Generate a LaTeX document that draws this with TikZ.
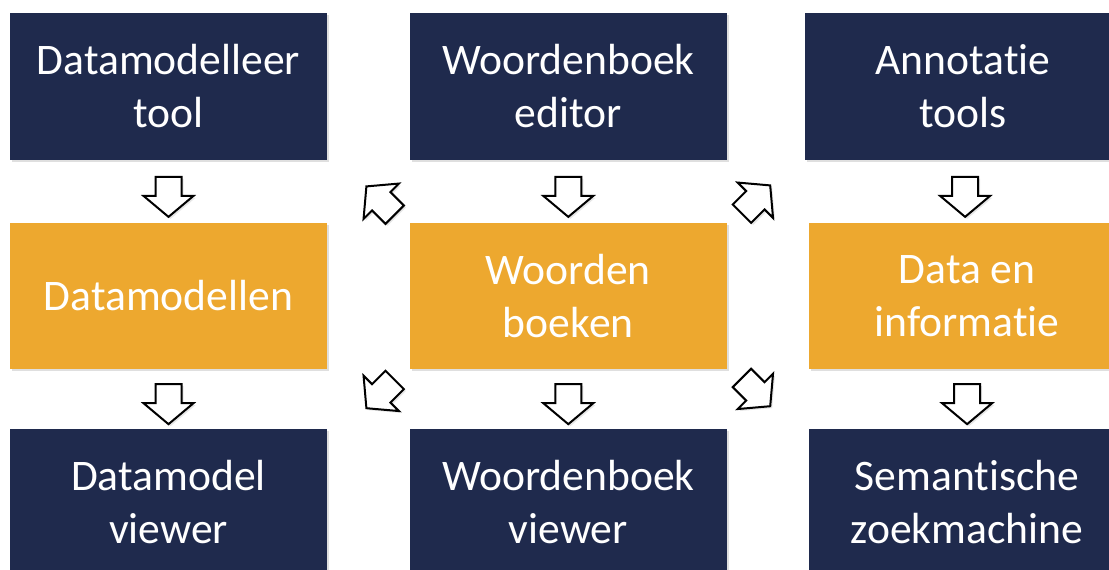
\documentclass[tikz,border=0pt]{standalone}
\usepackage{fontspec}
\setmainfont{Carlito}[Ligatures={NoCommon,NoRequired,NoContextual}, RawFeature={-dlig}]
\usetikzlibrary{calc,positioning,shapes.arrows,shadows}
\definecolor{navy}{HTML}{1F2A4D}
\definecolor{amber}{HTML}{EDA82F}

\begin{document}
\begin{tikzpicture}[
      x=0.5pt, y=-0.5pt,
      every node/.style={font=\fontsize{21.8pt}{26.5pt}\selectfont, align=center},
      toolbox/.style={rectangle, fill=navy, text=white, inner sep=0pt,
            minimum width=158.5pt, minimum height=73.5pt,
            drop shadow={shadow xshift=1.2pt, shadow yshift=-1.2pt, opacity=0.25}},
      databox/.style={toolbox, fill=amber, minimum height=73pt},
      flow/.style={single arrow, draw, line width=1pt, fill=white,
            minimum height=20pt, inner xsep=0pt, inner ysep=6pt,
            single arrow head extend=6pt, single arrow tip angle=100,
            drop shadow={shadow xshift=1pt, shadow yshift=-1pt, opacity=0.2}}
]
\clip (0,0) rectangle (1109,569);
\node[toolbox] (dmtool) at (168.5,86.5) {Datamodelleer\\tool};
\node[toolbox, right=41pt of dmtool] (wbeditor) {Woordenboek\\editor};
\node[toolbox, right=38.5pt of wbeditor] (annotools) {Annotatie\\tools};
\node[databox, below=31pt of dmtool] (datamodels) {Datamodellen};
\node[databox, right=41pt of datamodels] (woordenboeken) {Woorden\\boeken};
\node[databox, right=40.5pt of woordenboeken] (datainfo) {Data en\\informatie};
\node[toolbox, below=29.5pt of datamodels] (dmviewer) {Datamodel\\viewer};
\node[toolbox, below=29.5pt of woordenboeken] (wbviewer) {Woordenboek\\viewer};
\node[toolbox, below=29.5pt of datainfo] (zoekmachine) {Semantische\\zoekmachine};

% vertical flow
\node[flow, rotate=-90] at ($(dmtool.south)!0.5!(datamodels.north)$) {};
\node[flow, rotate=-90] at ($(wbeditor.south)!0.5!(woordenboeken.north)$) {};
\node[flow, rotate=-90] at ($(annotools.south)!0.5!(datainfo.north)$) {};
\node[flow, rotate=-90] at ($(datamodels.south)!0.5!(dmviewer.north)$) {};
\node[flow, rotate=-90] at ($(woordenboeken.south)!0.5!(wbviewer.north)$) {};
\node[flow, rotate=-90] at ($(datainfo.south)!0.5!(zoekmachine.north)$) {};

% diagonal flow round the dictionaries
\node[flow, rotate=135] at ([xshift=-12.5pt, yshift=9pt]woordenboeken.north west) {};
\node[flow, rotate=45] at ([xshift=12.5pt, yshift=9.5pt]woordenboeken.north east) {};
\node[flow, rotate=-135] at ([xshift=-12.5pt, yshift=-10.5pt]woordenboeken.south west) {};
\node[flow, rotate=-45] at ([xshift=12.5pt, yshift=-9.5pt]woordenboeken.south east) {};
\end{tikzpicture}
\end{document}
